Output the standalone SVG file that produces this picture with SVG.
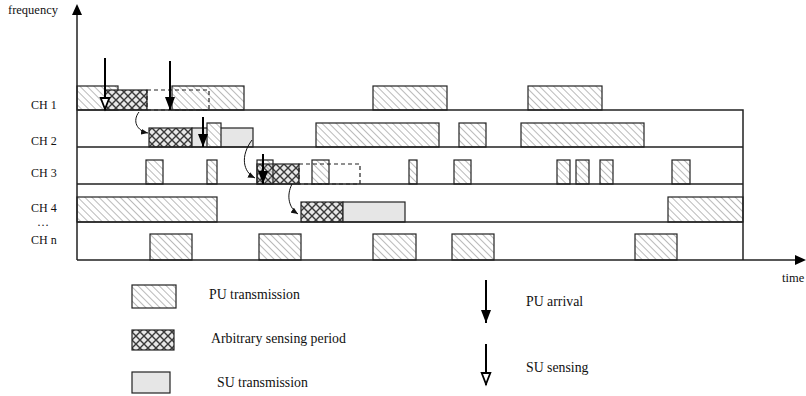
<svg xmlns="http://www.w3.org/2000/svg" width="806" height="396" viewBox="0 0 806 396">
<defs>
<pattern id="hatch" patternUnits="userSpaceOnUse" width="5" height="5" patternTransform="rotate(-45)"><rect width="5" height="5" fill="#fff"/><line x1="0" y1="0" x2="0" y2="5" stroke="#8c8c8c" stroke-width="1.2"/></pattern>
<pattern id="hatchT" patternUnits="userSpaceOnUse" width="5" height="5" patternTransform="rotate(-45)"><line x1="0" y1="0" x2="0" y2="5" stroke="#8c8c8c" stroke-width="1.2"/></pattern>
<pattern id="cross" patternUnits="userSpaceOnUse" width="8" height="8"><rect width="8" height="8" fill="#e8e8e8"/><path d="M0,0 L8,8 M8,0 L0,8" stroke="#3a3a3a" stroke-width="1.4"/></pattern>
<marker id="puHead" viewBox="0 -5 13 10" refX="13" refY="0" markerWidth="13" markerHeight="10" markerUnits="userSpaceOnUse" orient="auto" overflow="visible"><path d="M0,-5 L13,0 L0,5 z" fill="#000"/></marker>
<marker id="suHead" viewBox="0 -5 13 10" refX="13" refY="0" markerWidth="13" markerHeight="10" markerUnits="userSpaceOnUse" orient="auto" overflow="visible"><path d="M1,-4.3 L12,0 L1,4.3 z" fill="#fff" stroke="#000" stroke-width="1.8"/></marker>
<marker id="small" viewBox="0 -3 7 6" refX="7" refY="0" markerWidth="7" markerHeight="6" markerUnits="userSpaceOnUse" orient="auto"><path d="M0,-3 L7,0 L0,3 z" fill="#111"/></marker>
</defs>
<style>
text{font-family:"Liberation Serif","Times New Roman",serif;fill:#111}
.lbl{font-size:12px}
.leg{font-size:13.8px}
.pu{fill:url(#hatch);stroke:#222;stroke-width:1.2}
.puT{fill:url(#hatchT);stroke:#222;stroke-width:1.2}
.cx{fill:url(#cross);stroke:#222;stroke-width:1.2}
.su{fill:#e6e6e6;stroke:#222;stroke-width:1.2}
.dash{fill:none;stroke:#222;stroke-width:1.2;stroke-dasharray:4 3}
.lane{stroke:#222;stroke-width:1.5;fill:none}
.pa{stroke:#000;stroke-width:2;fill:none;marker-end:url(#puHead)}
.sa{stroke:#000;stroke-width:2;fill:none;marker-end:url(#suHead)}
.cur{stroke:#111;stroke-width:1;fill:none;marker-end:url(#small)}
</style>
<rect width="806" height="396" fill="#fff"/>

<g id="ch1">
<rect class="pu" x="77" y="86" width="41" height="24"/>
<rect class="cx" x="105" y="90" width="42" height="20"/>
<rect class="pu" x="172" y="86" width="72" height="24"/>
<rect class="dash" x="147" y="90" width="62" height="20"/>
<rect class="pu" x="373" y="86" width="74" height="24"/>
<rect class="pu" x="528" y="86" width="74" height="24"/>
</g>
<g id="ch2">
<rect class="cx" x="149" y="128" width="43" height="19"/>
<rect class="su" x="192" y="128" width="61" height="19"/>
<rect class="pu" x="207" y="123" width="14" height="24"/>
<rect class="pu" x="316" y="123" width="123" height="24"/>
<rect class="pu" x="459" y="123" width="27" height="24"/>
<rect class="pu" x="521" y="123" width="123" height="24"/>
</g>
<g id="ch3">
<rect class="pu" x="146" y="160" width="17" height="24"/>
<rect class="pu" x="207" y="160" width="10" height="24"/>
<rect class="cx" x="257" y="164" width="42" height="20"/>
<rect class="puT" x="257" y="160" width="16" height="24"/>
<rect class="pu" x="312" y="160" width="17" height="24"/>
<rect class="dash" x="299" y="164" width="61" height="20"/>
<rect class="pu" x="409" y="160" width="8" height="24"/>
<rect class="pu" x="454" y="160" width="17" height="24"/>
<rect class="pu" x="557" y="160" width="13" height="24"/>
<rect class="pu" x="576" y="160" width="13" height="24"/>
<rect class="pu" x="600" y="160" width="13" height="24"/>
<rect class="pu" x="672" y="160" width="18" height="24"/>
</g>
<g id="ch4">
<rect class="pu" x="77" y="197" width="140" height="25"/>
<rect class="cx" x="301" y="202" width="42" height="20"/>
<rect class="su" x="343" y="202" width="62" height="20"/>
<rect class="pu" x="668" y="197" width="75" height="25"/>
</g>
<g id="chn">
<rect class="pu" x="150" y="234" width="42" height="26"/>
<rect class="pu" x="259" y="234" width="42" height="26"/>
<rect class="pu" x="373" y="234" width="43" height="26"/>
<rect class="pu" x="452" y="234" width="42" height="26"/>
<rect class="pu" x="635" y="234" width="42" height="26"/>
</g>

<g id="axes">
<path class="lane" d="M77,110 H743 V260 M77,147 H743 M77,184 H743 M77,222 H743 M77,260 H798 M77,14 V260"/>
<path d="M77,4 L72,15 L82,15 z" fill="#000"/>
<path d="M806,260 L795,255 L795,265 z" fill="#000"/>
<text class="lbl" x="8" y="14" style="font-size:12.5px">frequency</text>
<text class="lbl" x="782" y="282" style="font-size:12.5px">time</text>
<text class="lbl" x="31" y="109">CH 1</text>
<text class="lbl" x="31" y="145">CH 2</text>
<text class="lbl" x="31" y="177">CH 3</text>
<text class="lbl" x="31" y="212">CH 4</text>
<text class="lbl" x="37" y="226">…</text>
<text class="lbl" x="31" y="244">CH n</text>
</g>

<g id="connectors">
<path class="sa" d="M105,58 V110"/>
<path class="pa" d="M170,61 V110"/>
<path class="pa" d="M203,117 V147"/>
<path class="pa" d="M263,154 V184"/>
<path class="cur" d="M139,112 C132,121 137,131 148,133"/>
<path class="cur" d="M252,140 C240,156 243,172 255,178"/>
<path class="cur" d="M292,184 C286,196 289,208 298,214"/>
</g>

<g id="legend">
<rect class="pu" x="132" y="285" width="44" height="23"/>
<text class="leg" x="209" y="299">PU transmission</text>
<rect class="cx" x="132" y="330" width="42" height="20"/>
<text class="leg" x="211" y="343">Arbitrary sensing period</text>
<rect class="su" x="132" y="372" width="38" height="21"/>
<text class="leg" x="217" y="387">SU transmission</text>
<path class="pa" d="M486,280 V323"/>
<text class="leg" x="526" y="306">PU arrival</text>
<path class="sa" d="M486,344 V385"/>
<text class="leg" x="526" y="372">SU sensing</text>
</g>
</svg>
